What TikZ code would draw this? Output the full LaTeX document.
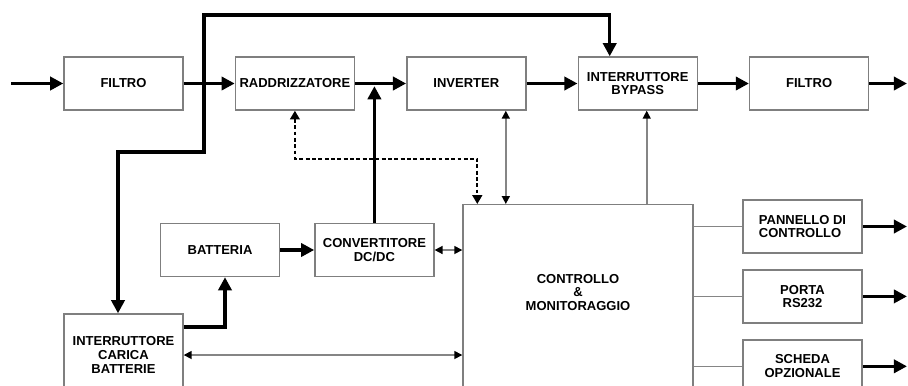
\documentclass[tikz,border=0pt]{standalone}
\usepackage{fontspec}
\setmainfont{Liberation Sans}
\usetikzlibrary{arrows.meta,positioning}
\definecolor{UpsFrame}{HTML}{7F7F7F}
\definecolor{UpsSignal}{HTML}{858585}

\begin{document}
\begin{tikzpicture}[node distance=1.02cm]
    \tikzset{upsblock/.style={draw=UpsFrame,line width=0.8pt,fill=white,
      minimum width=2.38cm,minimum height=1.06cm,align=center,inner sep=1pt,
      font=\fontsize{7.4}{7.8}\selectfont\bfseries},
      power/.style={line width=2pt,-{Triangle[length=7.5pt,width=7.5pt]}},
      powerboth/.style={line width=2pt,{Triangle[length=7.5pt,width=7.5pt]}-{Triangle[length=7.5pt,width=7.5pt]}},
      signalline/.style={draw=UpsSignal,line width=0.9pt},
      signal/.style={signalline,-{Triangle[length=4.5pt,width=4.5pt,color=black]}},
      signalboth/.style={signalline,{Triangle[length=4.5pt,width=4.5pt,color=black]}-{Triangle[length=4.5pt,width=4.5pt,color=black]}},
      feedback/.style={line width=1.2pt,dash pattern=on 2.2pt off 1.4pt,
        {Triangle[length=5pt,width=5.5pt]}-{Triangle[length=5pt,width=5.5pt]}}}
    \useasboundingbox (0,0) rectangle (18.16,-7.70);
    \node[upsblock] (filtroin) at (2.47,-1.67) {FILTRO};
    \node[upsblock,right=of filtroin] (raddr) {RADDRIZZATORE};
    \node[upsblock,right=of raddr] (inverter) {INVERTER};
    \node[upsblock,right=of inverter] (bypass) {INTERRUTTORE\\BYPASS};
    \node[upsblock,right=of bypass] (filtroout) {FILTRO};
    \node[upsblock] (batteria) at (4.40,-5.00) {BATTERIA};
    \node[upsblock,right=0.68cm of batteria] (dcdc) {CONVERTITORE\\DC/DC};
    \node[upsblock,minimum height=1.64cm] (carica) at (2.47,-7.10) {INTERRUTTORE\\CARICA\\BATTERIE};
    \node[upsblock,minimum width=4.60cm,minimum height=3.90cm,anchor=north] (monitor) at (11.56,-4.08) {};
    \node[align=center,font=\fontsize{7.4}{7.8}\selectfont\bfseries] (monitortext) at (11.56,-5.85)
      {CONTROLLO\\\&\\MONITORAGGIO};
    \node[upsblock,align=left] (pannello) at (16.05,-4.53) {PANNELLO DI\\CONTROLLO};
    \node[upsblock,below=0.31cm of pannello] (porta) {PORTA\\RS232};
    \node[upsblock,below=0.31cm of porta] (scheda) {SCHEDA\\OPZIONALE};
    \coordinate (inlet) at (0.22,-1.67);
    \coordinate (outlet) at (18.14,-1.67);
    \coordinate (loopbend) at (4.08,-3.04);
    \coordinate (looptop) at (4.08,-0.30);
    \draw[power] (inlet) -- (filtroin);
    \draw[power] (filtroin) -- (raddr);
    \draw[power] (raddr) -- (inverter);
    \draw[power] (inverter) -- (bypass);
    \draw[power] (bypass) -- (filtroout);
    \draw[power] (filtroout) -- (outlet);
    \draw[powerboth] ([xshift=-0.11cm]carica.north) |- (loopbend) -- (looptop)
      -| ([xshift=-0.56cm]bypass.north);
    \draw[power] ([yshift=0.56cm]carica.east) -| ([xshift=0.1cm]batteria.south);
    \draw[power] (batteria) -- (dcdc);
    \draw[power,shorten >=1.5pt] (dcdc.north) -- (dcdc.north |- raddr.east);
    \draw[signalboth] (dcdc.east) -- (dcdc.east -| monitor.west);
    \draw[signalboth] (carica.east) -- (carica.east -| monitor.west);
    \draw[signalboth] ([xshift=0.79cm]inverter.south) -- ([xshift=0.79cm]inverter.south |- monitor.north);
    \draw[signal] ([xshift=0.18cm]bypass.south |- monitor.north) -- ([xshift=0.18cm]bypass.south);
    \draw[feedback] (raddr.south) -- ++(0,-0.96) -| ([xshift=0.3cm]monitor.north west);
    \foreach \n in {pannello,porta,scheda}{
      \draw[signalline] (\n.west -| monitor.east) -- (\n.west);
      \draw[power] (\n.east) -- (\n.east -| outlet);
    }
  \end{tikzpicture}
\end{document}
